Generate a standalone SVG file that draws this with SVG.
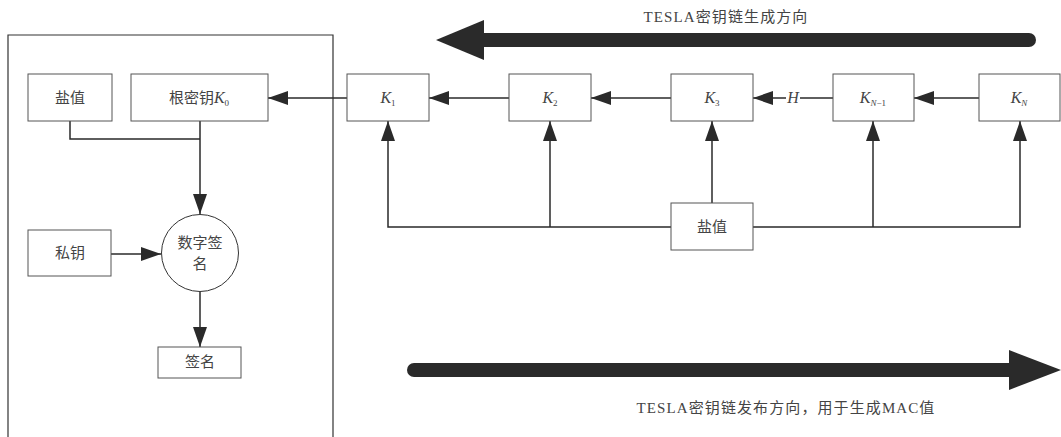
<svg xmlns="http://www.w3.org/2000/svg" width="1061" height="437" viewBox="0 0 1061 437">
  <style>
    .box { fill: #fff; stroke: #555; stroke-width: 1; }
    .lbl { font-family: "Liberation Serif", "Noto Sans CJK SC", serif; font-size: 15px; fill: #444; text-anchor: middle; }
    .cap { letter-spacing: 1.1px; }
    .k { font-style: italic; font-size: 16px; }
    .sub { font-size: 9px; font-style: normal; }
    .sub.it { font-style: italic; }
    .wire { fill: none; stroke: #2a2a2a; stroke-width: 1.5; }
    .arrowed { marker-end: url(#head); }
    .band { fill: none; stroke: #2a2a2a; stroke-width: 14; stroke-linecap: round; }
    .bandhead { fill: #2a2a2a; }
  </style>
  <defs>
    <marker id="head" markerUnits="userSpaceOnUse" markerWidth="20" markerHeight="14" viewBox="0 0 20 14" refX="20" refY="7" orient="auto">
      <path d="M0,0 L20,7 L0,14 z" fill="#2a2a2a"/>
    </marker>
  </defs>

  <rect width="1061" height="437" fill="#fff"/>

  <!-- sender-side frame, open at the bottom -->
  <path id="frame" d="M8,437 V35 H333 V437" fill="none" stroke="#333" stroke-width="1.2"/>

  <!-- direction bands -->
  <g id="gen-direction">
    <line class="band" x1="480" y1="40" x2="1029" y2="40"/>
    <polygon class="bandhead" points="436,40 484,20 484,60"/>
    <text class="lbl cap" x="726" y="22">TESLA密钥链生成方向</text>
  </g>
  <g id="pub-direction">
    <line class="band" x1="414" y1="370" x2="1015" y2="370"/>
    <polygon class="bandhead" points="1061,370 1009,350 1009,390"/>
    <text class="lbl cap" x="786" y="413">TESLA密钥链发布方向，用于生成MAC值</text>
  </g>

  <!-- connectors -->
  <g id="connectors">
    <path class="wire" d="M70,121 V139 H200"/>
    <path class="wire arrowed" d="M200,121 V214"/>
    <path class="wire arrowed" d="M111,254 H161"/>
    <path class="wire arrowed" d="M200,292 V347"/>

    <path class="wire arrowed" d="M979,98 H914"/>
    <path class="wire arrowed" d="M833,98 H753"/>
    <path class="wire arrowed" d="M671,98 H591"/>
    <path class="wire arrowed" d="M509,98 H429"/>
    <path class="wire arrowed" d="M347,98 H268"/>

    <path class="wire arrowed" d="M671,227 H388 V121"/>
    <path class="wire arrowed" d="M550,227 V121"/>
    <path class="wire arrowed" d="M712,203 V121"/>
    <path class="wire arrowed" d="M753,227 H1020 V121"/>
    <path class="wire arrowed" d="M873,227 V121"/>

    <rect x="786" y="89" width="14" height="17" fill="#fff"/>
    <text class="lbl k" x="793" y="103">H</text>
  </g>

  <!-- nodes -->
  <g id="salt-root">
    <rect class="box" x="28" y="74" width="84" height="47"/>
    <text class="lbl" x="70" y="103">盐值</text>
  </g>
  <g id="root-key">
    <rect class="box" x="131" y="74" width="137" height="47"/>
    <text class="lbl" x="199" y="103">根密钥<tspan class="k">K</tspan><tspan class="sub" dy="3">0</tspan></text>
  </g>
  <g id="k1">
    <rect class="box" x="347" y="74" width="82" height="47"/>
    <text class="lbl k" x="388" y="103">K<tspan class="sub" dy="3">1</tspan></text>
  </g>
  <g id="k2">
    <rect class="box" x="509" y="74" width="82" height="47"/>
    <text class="lbl k" x="550" y="103">K<tspan class="sub" dy="3">2</tspan></text>
  </g>
  <g id="k3">
    <rect class="box" x="671" y="74" width="82" height="47"/>
    <text class="lbl k" x="712" y="103">K<tspan class="sub" dy="3">3</tspan></text>
  </g>
  <g id="kn-1">
    <rect class="box" x="833" y="74" width="81" height="47"/>
    <text class="lbl k" x="873" y="103">K<tspan class="sub it" dy="3">N</tspan><tspan class="sub">−1</tspan></text>
  </g>
  <g id="kn">
    <rect class="box" x="979" y="74" width="81" height="47"/>
    <text class="lbl k" x="1019" y="103">K<tspan class="sub it" dy="3">N</tspan></text>
  </g>
  <g id="salt-chain">
    <rect class="box" x="671" y="203" width="82" height="47"/>
    <text class="lbl" x="712" y="232">盐值</text>
  </g>
  <g id="private-key">
    <rect class="box" x="28" y="230" width="83" height="46"/>
    <text class="lbl" x="70" y="258">私钥</text>
  </g>
  <g id="sign">
    <circle cx="200" cy="253" r="38.5" fill="#fff" stroke="#333" stroke-width="1"/>
    <text class="lbl" x="200" y="248">数字签</text>
    <text class="lbl" x="200" y="269">名</text>
  </g>
  <g id="signature">
    <rect class="box" x="158" y="347" width="83" height="31"/>
    <text class="lbl" x="200" y="367">签名</text>
  </g>
</svg>
